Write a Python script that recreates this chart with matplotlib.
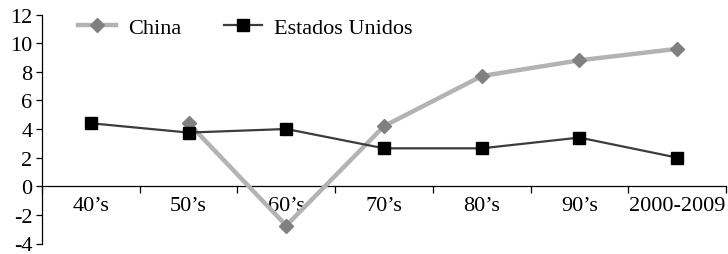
import numpy as np
import matplotlib.pyplot as plt
from matplotlib.ticker import FixedLocator, FixedFormatter, NullFormatter

plt.rcParams['font.family'] = ['Liberation Serif', 'DejaVu Serif']
plt.rcParams['axes.unicode_minus'] = False

decades = ["40’s", "50’s", "60’s", "70’s", "80’s", "90’s", "2000-2009"]
china = [np.nan, 4.4, -2.75, 4.2, 7.7, 8.8, 9.6]
usa = [4.4, 3.75, 4.0, 2.65, 2.65, 3.4, 2.0]

x = np.arange(len(decades))

fig = plt.figure(figsize=(7.28, 2.55), dpi=100)
ax = fig.add_axes([42/728, 10.5/255, 684/728, 229/255])

ax.plot(x, china, color="#b3b3b3", lw=3.2, marker="D", ms=7.5,
        mfc="#808080", mec="#808080", label="China", zorder=3)
ax.plot(x, usa, color="#3c3c3c", lw=1.6, marker="s", ms=8.5,
        mfc="black", mec="black", label="Estados Unidos", zorder=4)

ax.set_xlim(-0.5, len(decades) - 0.5)
ax.set_ylim(-4, 12)
ax.set_yticks(np.arange(-4, 13, 2))

for s in ["top", "right"]:
    ax.spines[s].set_visible(False)
ax.spines["bottom"].set_position(("data", 0))
ax.spines["left"].set_linewidth(0.9)
ax.spines["bottom"].set_linewidth(0.9)

# ticks at category boundaries, labels at centres
ax.xaxis.set_major_locator(FixedLocator(np.arange(-0.5, len(decades), 1.0)))
ax.xaxis.set_major_formatter(NullFormatter())
ax.xaxis.set_minor_locator(FixedLocator(x))
ax.xaxis.set_minor_formatter(FixedFormatter(decades))
ax.tick_params(axis="x", which="major", direction="out", length=5, width=0.9)
ax.tick_params(axis="x", which="minor", length=0, pad=7, labelsize=16)
ax.tick_params(axis="y", direction="out", length=4, width=0.9, labelsize=16, pad=3)

ax.legend(loc="upper left", bbox_to_anchor=(0.023, 1.075), ncol=2, frameon=False,
          fontsize=16, handlelength=1.7, columnspacing=1.95, handletextpad=0.55)

fig.savefig("out.png", dpi=100)
